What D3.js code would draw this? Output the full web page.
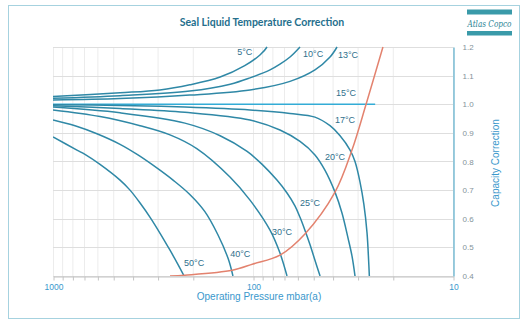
<!DOCTYPE html>
<html><head><meta charset="utf-8">
<script src="https://cdn.jsdelivr.net/npm/d3@7/dist/d3.min.js"></script>
<style>body{margin:0;background:#fff;} svg{display:block;}</style>
</head><body>
<svg id="chart" width="530" height="330"></svg>
<script>
// ---- data (pressure mbar(a), capacity correction) ----
const chartTitle = "Seal Liquid Temperature Correction";
const xTitle = "Operating Pressure mbar(a)";
const yTitle = "Capacity Correction";
const xTickLabels = [1000, 100, 10];
const yTickLabels = [0.4, 0.5, 0.6, 0.7, 0.8, 0.9, 1.0, 1.1, 1.2];

const temperatures = ["5°C","10°C","13°C","15°C","17°C","20°C","25°C","30°C","40°C","50°C"];

const p5  = [1000, 462, 292, 207, 146, 110, 92.3, 85.1];
const c5  = [1.027, 1.04, 1.05, 1.068, 1.095, 1.135, 1.172, 1.2];
const p10 = [1000, 462, 207, 130, 103.5, 82.2, 73.3, 65.3, 58.2];
const c10 = [1.021, 1.03, 1.046, 1.07, 1.092, 1.12, 1.14, 1.165, 1.2];
const p13 = [1000, 462, 207, 103.5, 65.3, 49, 41.2, 38];
const c13 = [1.015, 1.02, 1.032, 1.05, 1.08, 1.12, 1.165, 1.2];
const p15 = [1000, 24.5];
const c15 = [1.0, 1.0];
const p17 = [1000, 462, 219, 103.5, 65.3, 49, 41.2, 36.7, 32.7, 30.9, 29.2, 27.9, 26.9, 26.4, 26.2];
const c17 = [0.998, 0.996, 0.99, 0.98, 0.968, 0.955, 0.925, 0.89, 0.84, 0.80, 0.73, 0.65, 0.55, 0.45, 0.4];
const p20 = [1000, 462, 219, 103.5, 73.3, 58.2, 49, 43.7, 38.9, 35.9, 33.5, 32.0, 30.9];
const c20 = [0.995, 0.985, 0.972, 0.945, 0.91, 0.87, 0.823, 0.77, 0.693, 0.62, 0.533, 0.47, 0.4];
const p25 = [1000, 462, 219, 146, 107, 90, 75.9, 67.6, 61.7, 58.2, 55, 51.9, 49, 46.2];
const c25 = [0.99, 0.97, 0.934, 0.89, 0.835, 0.79, 0.735, 0.69, 0.645, 0.605, 0.56, 0.51, 0.455, 0.4];
const p30 = [1000, 582, 367, 260, 191, 130, 103.5, 82.2, 73.3, 67.6];
const c30 = [0.98, 0.957, 0.925, 0.893, 0.845, 0.745, 0.665, 0.56, 0.48, 0.4];
const p40 = [1000, 776, 603, 462, 376, 299, 251, 207, 174, 150, 133, 126];
const c40 = [0.945, 0.925, 0.897, 0.86, 0.823, 0.775, 0.735, 0.685, 0.625, 0.545, 0.46, 0.4];
const p50 = [1000, 759, 692, 582, 462, 412, 367, 327, 292, 260, 237, 221];
const c50 = [0.886, 0.84, 0.825, 0.79, 0.735, 0.70, 0.655, 0.605, 0.55, 0.49, 0.44, 0.4];

// limit curve (red)
const pLimit = [260, 219, 127, 100, 73.3, 55, 38.9, 32, 27.2, 22.4];
const cLimit = [0.4, 0.403, 0.42, 0.442, 0.473, 0.547, 0.693, 0.84, 1.0, 1.2];

// label anchors (pressure, correction)
const labelP = [120, 56.2, 37.6, 38.5, 38.9, 43.7, 58.2, 80.4, 130, 221];
const labelC = [1.172, 1.165, 1.162, 1.029, 0.935, 0.805, 0.645, 0.543, 0.466, 0.435];

const seriesP = [p5, p10, p13, p15, p17, p20, p25, p30, p40, p50];
const seriesC = [c5, c10, c13, c15, c17, c20, c25, c30, c40, c50];

// ---- drawing ----
const svg = d3.select("#chart");
const mL = 53, mR = 453, mT = 47, mB = 276;
const x = d3.scaleLog().domain([1000, 10]).range([mL, mR]);
const y = d3.scaleLinear().domain([0.4, 1.2]).range([mB, mT]);

// frame
svg.append("rect").attr("x", 8.5).attr("y", 5.5).attr("width", 511).attr("height", 313)
  .attr("fill", "none").attr("stroke", "#a6d2df").attr("stroke-width", 1);

// title
svg.append("text").attr("x", 262).attr("y", 26).attr("text-anchor", "middle")
  .attr("font-family", "Lato, 'Open Sans', sans-serif").attr("font-weight", "bold")
  .attr("font-size", 10.5).attr("fill", "#256f8d").text(chartTitle);

// logo
const logo = svg.append("g");
logo.append("rect").attr("x", 467).attr("y", 9.5).attr("width", 45).attr("height", 5).attr("fill", "#3a9aa9");
logo.append("rect").attr("x", 467).attr("y", 31).attr("width", 45).attr("height", 4.5).attr("fill", "#3a9aa9");
logo.append("text").attr("x", 489.5).attr("y", 26.5).attr("text-anchor", "middle")
  .attr("font-family", "'DejaVu Serif', serif").attr("font-style", "italic")
  .attr("font-size", 9.5).attr("fill", "#2a8494").attr("textLength", 44).attr("lengthAdjust", "spacingAndGlyphs")
  .text("Atlas Copco");

// grid
const grid = svg.append("g");
grid.selectAll("line.v").data(x.ticks()).join("line")
  .attr("x1", d => x(d) + 0.5).attr("x2", d => x(d) + 0.5)
  .attr("y1", mT).attr("y2", mB)
  .attr("stroke", "#ececec").attr("stroke-width", 1);
grid.selectAll("line.h").data(yTickLabels).join("line")
  .attr("x1", mL).attr("x2", mR)
  .attr("y1", d => Math.round(y(d)) + 0.5).attr("y2", d => Math.round(y(d)) + 0.5)
  .attr("stroke", "#dedede").attr("stroke-width", 1);

// bottom axis
const xAxis = d3.axisBottom(x).tickValues(x.ticks()).tickSize(4).tickSizeOuter(0)
  .tickFormat(d => xTickLabels.includes(d) ? String(d) : "");
const gx = svg.append("g").attr("transform", `translate(0.5,${mB + 0.5})`).call(xAxis);
gx.select(".domain").attr("stroke", "#c4c4c4");
gx.selectAll(".tick line").attr("stroke", "#c4c4c4");
gx.selectAll(".tick text").attr("fill", "#3a98cc").attr("font-size", 8.5)
  .attr("font-family", "'Liberation Sans', Arial, sans-serif");

// right axis
const yAxis = d3.axisRight(y).tickValues(yTickLabels).tickSize(0).tickSizeOuter(0).tickPadding(9)
  .tickFormat(d3.format(".1f"));
const gy = svg.append("g").attr("transform", `translate(${mR + 0.5},0)`).call(yAxis);
gy.select(".domain").attr("stroke", "#5aaecb").attr("stroke-width", 1.2);
gy.selectAll(".tick text").attr("fill", "#84939a").attr("font-size", 8)
  .attr("font-family", "'Liberation Sans', Arial, sans-serif");

// axis titles
svg.append("text").attr("x", 259).attr("y", 300).attr("text-anchor", "middle")
  .attr("font-family", "'Liberation Sans', Arial, sans-serif").attr("font-size", 10)
  .attr("fill", "#3a98cc").text(xTitle);
svg.append("text").attr("transform", "translate(499,163) rotate(-90)").attr("text-anchor", "middle")
  .attr("font-family", "'Liberation Sans', Arial, sans-serif").attr("font-size", 10)
  .attr("fill", "#3a98cc").text(yTitle);

// clip
svg.append("clipPath").attr("id", "plotclip").append("rect")
  .attr("x", mL).attr("y", mT - 1).attr("width", mR - mL).attr("height", mB - mT + 1);

const line = d3.line().x(d => x(d[0])).y(d => y(d[1])).curve(d3.curveCatmullRom.alpha(0.5));
const curves = svg.append("g").attr("clip-path", "url(#plotclip)");

seriesP.forEach((ps, i) => {
  const pts = ps.map((p, j) => [p, seriesC[i][j]]);
  curves.append("path").attr("d", line(pts)).attr("fill", "none")
    .attr("stroke", temperatures[i] === "15°C" ? "#33acd6" : "#2f88a6")
    .attr("stroke-width", 1.5);
});

const limPts = pLimit.map((p, j) => [p, cLimit[j]]);
curves.append("path").attr("d", line(limPts)).attr("fill", "none")
  .attr("stroke", "#e3826e").attr("stroke-width", 1.5);

// curve labels
svg.append("g").selectAll("text").data(temperatures).join("text")
  .attr("x", (d, i) => x(labelP[i])).attr("y", (d, i) => y(labelC[i]))
  .attr("font-family", "'Liberation Sans', Arial, sans-serif").attr("font-size", 9)
  .attr("fill", "#2f6f8c").text(d => d);
</script>
</body></html>
